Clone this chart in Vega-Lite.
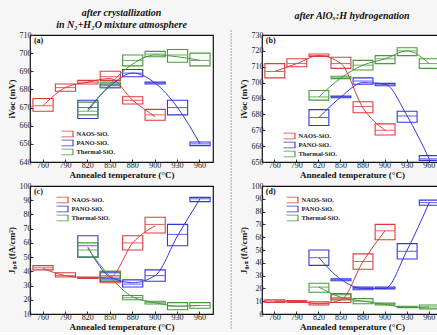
{
"$schema":"https://vega.github.io/schema/vega-lite/v6.json",
"background":"#f6f6f6",
"padding":{"left":6,"top":7,"right":0,"bottom":0},
"config":{
 "view":{"stroke":"#111","strokeWidth":1.2,"fill":"white"},
 "axis":{"grid":false,"domain":false,"labelOverlap":false,"labelFont":"Liberation Serif","labelFontSize":8,"labelColor":"#222","titleFont":"Liberation Serif","titleFontSize":9,"titleFontWeight":"bold","titleColor":"#111","tickColor":"#333","tickSize":-3,"labelPadding":2},
 "axisX":{"labelAngle":0,"titlePadding":1},
 "axisY":{"titlePadding":3},
 "title":{"font":"Liberation Serif","fontStyle":"italic","fontWeight":"bold","fontSize":10,"color":"#111","frame":"group","lineHeight":12},
 "legend":{"title":null,"orient":"none","symbolType":"M-2.5,-1H2.5V1H-2.5Z","symbolSize":36,"symbolStrokeWidth":1.1,"labelFont":"Liberation Serif","labelFontSize":6.5,"labelFontWeight":"bold","labelColor":"#222","labelOffset":7,"rowPadding":2,"clipHeight":7,"padding":0}
},
"datasets":{
 "a":[
  {"s":"NAOS-SiOₓ","t":"760","lo":668,"hi":675,"med":671,"m":671},
  {"s":"NAOS-SiOₓ","t":"790","lo":679,"hi":683,"med":681,"m":681},
  {"s":"NAOS-SiOₓ","t":"820","lo":683,"hi":685,"med":684,"m":684},
  {"s":"NAOS-SiOₓ","t":"850","lo":685,"hi":690,"med":687,"m":686},
  {"s":"NAOS-SiOₓ","t":"880","lo":672,"hi":676,"med":674,"m":674},
  {"s":"NAOS-SiOₓ","t":"900","lo":663,"hi":669,"med":666,"m":665},
  {"s":"PANO-SiOₓ","t":"820","lo":664,"hi":674,"med":670,"m":669},
  {"s":"PANO-SiOₓ","t":"850","lo":681,"hi":683,"med":682,"m":682},
  {"s":"PANO-SiOₓ","t":"880","lo":687,"hi":691,"med":689,"m":689},
  {"s":"PANO-SiOₓ","t":"900","lo":683,"hi":684,"med":683.5,"m":683.5},
  {"s":"PANO-SiOₓ","t":"930","lo":666,"hi":674,"med":670,"m":670},
  {"s":"PANO-SiOₓ","t":"960","lo":649,"hi":651,"med":650,"m":650},
  {"s":"Thermal-SiOₓ","t":"820","lo":666,"hi":673,"med":668,"m":668},
  {"s":"Thermal-SiOₓ","t":"850","lo":681,"hi":684,"med":682.5,"m":683},
  {"s":"Thermal-SiOₓ","t":"880","lo":693,"hi":699,"med":696,"m":694},
  {"s":"Thermal-SiOₓ","t":"900","lo":698,"hi":701,"med":699.5,"m":699},
  {"s":"Thermal-SiOₓ","t":"930","lo":695,"hi":702,"med":699,"m":698},
  {"s":"Thermal-SiOₓ","t":"960","lo":693,"hi":700,"med":696,"m":696}
 ],
 "b":[
  {"s":"NAOS-SiOₓ","t":"760","lo":703,"hi":712,"med":707,"m":707},
  {"s":"NAOS-SiOₓ","t":"790","lo":710,"hi":715,"med":712,"m":712},
  {"s":"NAOS-SiOₓ","t":"820","lo":716.5,"hi":718,"med":717,"m":717},
  {"s":"NAOS-SiOₓ","t":"850","lo":709,"hi":716,"med":712,"m":712},
  {"s":"NAOS-SiOₓ","t":"880","lo":681,"hi":688,"med":685,"m":684},
  {"s":"NAOS-SiOₓ","t":"900","lo":667,"hi":674,"med":670,"m":670},
  {"s":"PANO-SiOₓ","t":"820","lo":673,"hi":683,"med":678,"m":678},
  {"s":"PANO-SiOₓ","t":"850","lo":690.5,"hi":691.5,"med":691,"m":691},
  {"s":"PANO-SiOₓ","t":"880","lo":699,"hi":703,"med":701,"m":700},
  {"s":"PANO-SiOₓ","t":"900","lo":698,"hi":699.5,"med":699,"m":699},
  {"s":"PANO-SiOₓ","t":"930","lo":675,"hi":682,"med":679,"m":679},
  {"s":"PANO-SiOₓ","t":"960","lo":651,"hi":654,"med":652,"m":652},
  {"s":"Thermal-SiOₓ","t":"820","lo":689,"hi":695,"med":691,"m":691},
  {"s":"Thermal-SiOₓ","t":"850","lo":702.5,"hi":704,"med":703,"m":703},
  {"s":"Thermal-SiOₓ","t":"880","lo":708,"hi":714,"med":711,"m":711},
  {"s":"Thermal-SiOₓ","t":"900","lo":712,"hi":717,"med":715,"m":715},
  {"s":"Thermal-SiOₓ","t":"930","lo":717,"hi":722,"med":720,"m":720},
  {"s":"Thermal-SiOₓ","t":"960","lo":709,"hi":715,"med":712,"m":712}
 ],
 "c":[
  {"s":"NAOS-SiOₓ","t":"760","lo":41,"hi":44,"med":42.5,"m":42},
  {"s":"NAOS-SiOₓ","t":"790","lo":36,"hi":39,"med":37,"m":37},
  {"s":"NAOS-SiOₓ","t":"820","lo":35,"hi":36,"med":35.5,"m":35.5},
  {"s":"NAOS-SiOₓ","t":"850","lo":32,"hi":40,"med":36,"m":36},
  {"s":"NAOS-SiOₓ","t":"880","lo":55,"hi":65,"med":60,"m":60},
  {"s":"NAOS-SiOₓ","t":"900","lo":67,"hi":78,"med":73,"m":72},
  {"s":"PANO-SiOₓ","t":"820","lo":50,"hi":65,"med":58,"m":57},
  {"s":"PANO-SiOₓ","t":"850","lo":33,"hi":39,"med":35,"m":36},
  {"s":"PANO-SiOₓ","t":"880","lo":29,"hi":34,"med":31,"m":32},
  {"s":"PANO-SiOₓ","t":"900","lo":33,"hi":41,"med":37,"m":37},
  {"s":"PANO-SiOₓ","t":"930","lo":58,"hi":73,"med":66,"m":65},
  {"s":"PANO-SiOₓ","t":"960","lo":89,"hi":92,"med":91,"m":91},
  {"s":"Thermal-SiOₓ","t":"820","lo":50,"hi":60,"med":55,"m":56},
  {"s":"Thermal-SiOₓ","t":"850","lo":34,"hi":40,"med":37,"m":36},
  {"s":"Thermal-SiOₓ","t":"880","lo":20,"hi":23,"med":21.5,"m":22},
  {"s":"Thermal-SiOₓ","t":"900","lo":17,"hi":19,"med":18,"m":18},
  {"s":"Thermal-SiOₓ","t":"930","lo":13,"hi":18,"med":15.5,"m":15.5},
  {"s":"Thermal-SiOₓ","t":"960","lo":14,"hi":18,"med":16,"m":16}
 ],
 "d":[
  {"s":"NAOS-SiOₓ","t":"760","lo":9,"hi":11,"med":10,"m":10},
  {"s":"NAOS-SiOₓ","t":"790","lo":9,"hi":10.5,"med":9.8,"m":10},
  {"s":"NAOS-SiOₓ","t":"820","lo":7,"hi":9.5,"med":8,"m":8},
  {"s":"NAOS-SiOₓ","t":"850","lo":9,"hi":16,"med":12,"m":11},
  {"s":"NAOS-SiOₓ","t":"880","lo":35,"hi":47,"med":41,"m":41},
  {"s":"NAOS-SiOₓ","t":"900","lo":58,"hi":70,"med":65,"m":65},
  {"s":"PANO-SiOₓ","t":"820","lo":38,"hi":50,"med":44,"m":44},
  {"s":"PANO-SiOₓ","t":"850","lo":26,"hi":27.5,"med":26.8,"m":27},
  {"s":"PANO-SiOₓ","t":"880","lo":19,"hi":21,"med":20,"m":20},
  {"s":"PANO-SiOₓ","t":"900","lo":19.5,"hi":21,"med":20,"m":20},
  {"s":"PANO-SiOₓ","t":"930","lo":43,"hi":55,"med":49,"m":50},
  {"s":"PANO-SiOₓ","t":"960","lo":85,"hi":89,"med":87,"m":87},
  {"s":"Thermal-SiOₓ","t":"820","lo":17,"hi":24,"med":21,"m":21},
  {"s":"Thermal-SiOₓ","t":"850","lo":11,"hi":15,"med":13,"m":13},
  {"s":"Thermal-SiOₓ","t":"880","lo":8,"hi":12,"med":10,"m":10},
  {"s":"Thermal-SiOₓ","t":"900","lo":7,"hi":8.5,"med":7.7,"m":7.5},
  {"s":"Thermal-SiOₓ","t":"930","lo":5,"hi":6,"med":5.5,"m":5},
  {"s":"Thermal-SiOₓ","t":"960","lo":4,"hi":7,"med":5.5,"m":5.5}
 ]
},
"columns":2,
"spacing":{"row":24,"column":49},
"bounds":"flush",
"resolve":{"scale":{"color":"independent","fill":"independent","x":"independent","y":"independent"},"legend":{"color":"independent"}},
"concat":[
 {
  "width":183,"height":127,
  "title":{"text":["after crystallization","in N₂+H₂O mixture atmosphere"],"offset":1},
  "data":{"name":"a"},
  "encoding":{
   "x":{"field":"t","type":"ordinal","scale":{"domain":["760","790","820","850","880","900","930","960"],"paddingInner":0.1,"paddingOuter":0.13},"axis":{"title":"Annealed temperature (°C)"}}
  },
  "layer":[
   {"mark":{"type":"bar","filled":false,"strokeWidth":1.1},"encoding":{
     "y":{"field":"lo","type":"quantitative","scale":{"domain":[640,710],"nice":false,"zero":false},"axis":{"values":[640,650,660,670,680,690,700,710],"labelOverlap":false,"title":"iVoc (mV)"}},"y2":{"field":"hi"},
     "color":{"field":"s","type":"nominal","scale":{"domain":["NAOS-SiOₓ","PANO-SiOₓ","Thermal-SiOₓ"],"range":["#dd3a3a","#3535dd","#46993a"]},"legend":{"legendX":31.5,"legendY":95.5,"encode":{"symbols":{"update":{"fillOpacity":{"value":0}}}}}}}},
   {"mark":{"type":"line","interpolate":"monotone","strokeWidth":1},"encoding":{
     "y":{"field":"m","type":"quantitative","axis":{"values":[640,650,660,670,680,690,700,710],"labelOverlap":false,"title":"iVoc (mV)"}},
     "color":{"field":"s","type":"nominal","legend":{"legendX":31.5,"legendY":95.5,"encode":{"symbols":{"update":{"fillOpacity":{"value":0}}}}}}}},
   {"mark":{"type":"tick","thickness":1,"size":19,"opacity":0.8},"encoding":{
     "y":{"field":"med","type":"quantitative","axis":{"values":[640,650,660,670,680,690,700,710],"labelOverlap":false,"title":"iVoc (mV)"}},
     "fill":{"field":"s","type":"nominal","scale":{"domain":["NAOS-SiOₓ","PANO-SiOₓ","Thermal-SiOₓ"],"range":["#dd3a3a","#3535dd","#46993a"]},"legend":null}}},
   {"data":{"values":[{"lab":"(a)"}]},"mark":{"type":"text","font":"Liberation Serif","fontWeight":"bold","fontSize":8,"align":"left","baseline":"top","dx":1,"dy":2,"color":"#111"},"encoding":{"text":{"field":"lab"},"x":{"datum":"760","bandPosition":0},"y":{"datum":710,"axis":{"values":[640,650,660,670,680,690,700,710],"labelOverlap":false,"title":"iVoc (mV)"}}}}
  ]
 },
 {
  "width":180,"height":127,
  "title":{"text":"after AlOₓ:H hydrogenation","offset":9},
  "data":{"name":"b"},
  "encoding":{
   "x":{"field":"t","type":"ordinal","scale":{"domain":["760","790","820","850","880","900","930","960"],"paddingInner":0.1,"paddingOuter":0.13},"axis":{"title":"Annealed temperature (°C)"}}
  },
  "layer":[
   {"mark":{"type":"bar","filled":false,"strokeWidth":1.1},"encoding":{
     "y":{"field":"lo","type":"quantitative","scale":{"domain":[650,730],"nice":false,"zero":false},"axis":{"values":[650,660,670,680,690,700,710,720,730],"labelOverlap":false,"title":"iVoc (mV)"}},"y2":{"field":"hi"},
     "color":{"field":"s","type":"nominal","scale":{"domain":["NAOS-SiOₓ","PANO-SiOₓ","Thermal-SiOₓ"],"range":["#dd3a3a","#3535dd","#46993a"]},"legend":{"legendX":21.5,"legendY":97.5,"encode":{"symbols":{"update":{"fillOpacity":{"value":0}}}}}}}},
   {"mark":{"type":"line","interpolate":"monotone","strokeWidth":1},"encoding":{
     "y":{"field":"m","type":"quantitative","axis":{"values":[650,660,670,680,690,700,710,720,730],"labelOverlap":false,"title":"iVoc (mV)"}},
     "color":{"field":"s","type":"nominal","legend":{"legendX":21.5,"legendY":97.5,"encode":{"symbols":{"update":{"fillOpacity":{"value":0}}}}}}}},
   {"mark":{"type":"tick","thickness":1,"size":19,"opacity":0.8},"encoding":{
     "y":{"field":"med","type":"quantitative","axis":{"values":[650,660,670,680,690,700,710,720,730],"labelOverlap":false,"title":"iVoc (mV)"}},
     "fill":{"field":"s","type":"nominal","scale":{"domain":["NAOS-SiOₓ","PANO-SiOₓ","Thermal-SiOₓ"],"range":["#dd3a3a","#3535dd","#46993a"]},"legend":null}}},
   {"data":{"values":[{"lab":"(b)"}]},"mark":{"type":"text","font":"Liberation Serif","fontWeight":"bold","fontSize":8,"align":"left","baseline":"top","dx":1,"dy":2,"color":"#111"},"encoding":{"text":{"field":"lab"},"x":{"datum":"760","bandPosition":0},"y":{"datum":730,"axis":{"values":[650,660,670,680,690,700,710,720,730],"labelOverlap":false,"title":"iVoc (mV)"}}}},
   {"data":{"values":[{"sep":"separator"}]},"mark":{"type":"rule","color":"#8a8a8a","strokeWidth":1,"strokeDash":[1.5,1.5]},"encoding":{"x":{"datum":"760","bandPosition":-1.7},"y":{"datum":733,"axis":{"values":[650,660,670,680,690,700,710,720,730],"labelOverlap":false,"title":"iVoc (mV)"}},"y2":{"datum":545}}}
  ]
 },
 {
  "width":183,"height":128,
  "data":{"name":"c"},
  "encoding":{
   "x":{"field":"t","type":"ordinal","scale":{"domain":["760","790","820","850","880","900","930","960"],"paddingInner":0.1,"paddingOuter":0.13},"axis":{"title":"Annealed temperature (°C)"}}
  },
  "layer":[
   {"mark":{"type":"bar","filled":false,"strokeWidth":1.1},"encoding":{
     "y":{"field":"lo","type":"quantitative","scale":{"domain":[10,100],"nice":false,"zero":false},"axis":{"values":[10,20,30,40,50,60,70,80,90,100],"labelOverlap":false,"title":"J₀,ₛ (fA/cm²)"}},"y2":{"field":"hi"},
     "color":{"field":"s","type":"nominal","scale":{"domain":["NAOS-SiOₓ","PANO-SiOₓ","Thermal-SiOₓ"],"range":["#dd3a3a","#3535dd","#46993a"]},"legend":{"legendX":26.5,"legendY":10.5,"encode":{"symbols":{"update":{"fillOpacity":{"value":0}}}}}}}},
   {"mark":{"type":"line","interpolate":"monotone","strokeWidth":1},"encoding":{
     "y":{"field":"m","type":"quantitative","axis":{"values":[10,20,30,40,50,60,70,80,90,100],"labelOverlap":false,"title":"J₀,ₛ (fA/cm²)"}},
     "color":{"field":"s","type":"nominal","legend":{"legendX":26.5,"legendY":10.5,"encode":{"symbols":{"update":{"fillOpacity":{"value":0}}}}}}}},
   {"mark":{"type":"tick","thickness":1,"size":19,"opacity":0.8},"encoding":{
     "y":{"field":"med","type":"quantitative","axis":{"values":[10,20,30,40,50,60,70,80,90,100],"labelOverlap":false,"title":"J₀,ₛ (fA/cm²)"}},
     "fill":{"field":"s","type":"nominal","scale":{"domain":["NAOS-SiOₓ","PANO-SiOₓ","Thermal-SiOₓ"],"range":["#dd3a3a","#3535dd","#46993a"]},"legend":null}}},
   {"data":{"values":[{"lab":"(c)"}]},"mark":{"type":"text","font":"Liberation Serif","fontWeight":"bold","fontSize":8,"align":"left","baseline":"top","dx":1,"dy":2,"color":"#111"},"encoding":{"text":{"field":"lab"},"x":{"datum":"760","bandPosition":0},"y":{"datum":100,"axis":{"values":[10,20,30,40,50,60,70,80,90,100],"labelOverlap":false,"title":"J₀,ₛ (fA/cm²)"}}}}
  ]
 },
 {
  "width":180,"height":128,
  "data":{"name":"d"},
  "encoding":{
   "x":{"field":"t","type":"ordinal","scale":{"domain":["760","790","820","850","880","900","930","960"],"paddingInner":0.1,"paddingOuter":0.13},"axis":{"title":"Annealed temperature (°C)"}}
  },
  "layer":[
   {"mark":{"type":"bar","filled":false,"strokeWidth":1.1},"encoding":{
     "y":{"field":"lo","type":"quantitative","scale":{"domain":[0,100],"nice":false,"zero":false},"axis":{"values":[0,10,20,30,40,50,60,70,80,90,100],"labelOverlap":false,"title":"J₀,ₛ (fA/cm²)"}},"y2":{"field":"hi"},
     "color":{"field":"s","type":"nominal","scale":{"domain":["NAOS-SiOₓ","PANO-SiOₓ","Thermal-SiOₓ"],"range":["#dd3a3a","#3535dd","#46993a"]},"legend":{"legendX":24.5,"legendY":10.5,"encode":{"symbols":{"update":{"fillOpacity":{"value":0}}}}}}}},
   {"mark":{"type":"line","interpolate":"monotone","strokeWidth":1},"encoding":{
     "y":{"field":"m","type":"quantitative","axis":{"values":[0,10,20,30,40,50,60,70,80,90,100],"labelOverlap":false,"title":"J₀,ₛ (fA/cm²)"}},
     "color":{"field":"s","type":"nominal","legend":{"legendX":24.5,"legendY":10.5,"encode":{"symbols":{"update":{"fillOpacity":{"value":0}}}}}}}},
   {"mark":{"type":"tick","thickness":1,"size":19,"opacity":0.8},"encoding":{
     "y":{"field":"med","type":"quantitative","axis":{"values":[0,10,20,30,40,50,60,70,80,90,100],"labelOverlap":false,"title":"J₀,ₛ (fA/cm²)"}},
     "fill":{"field":"s","type":"nominal","scale":{"domain":["NAOS-SiOₓ","PANO-SiOₓ","Thermal-SiOₓ"],"range":["#dd3a3a","#3535dd","#46993a"]},"legend":null}}},
   {"data":{"values":[{"lab":"(d)"}]},"mark":{"type":"text","font":"Liberation Serif","fontWeight":"bold","fontSize":8,"align":"left","baseline":"top","dx":1,"dy":2,"color":"#111"},"encoding":{"text":{"field":"lab"},"x":{"datum":"760","bandPosition":0},"y":{"datum":100,"axis":{"values":[0,10,20,30,40,50,60,70,80,90,100],"labelOverlap":false,"title":"J₀,ₛ (fA/cm²)"}}}}
  ]
 }
]
}
